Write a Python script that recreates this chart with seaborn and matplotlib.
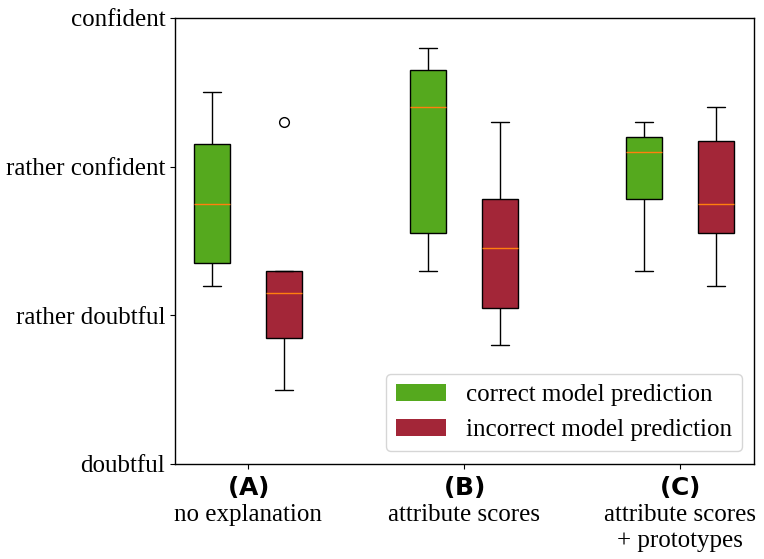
import matplotlib
matplotlib.use('Agg')
import matplotlib.pyplot as plt
from matplotlib.patches import Patch
import pandas as pd
import seaborn as sns

# Estimated five-number summaries (min, Q1, median, Q3, max) per box,
# 1 = doubtful ... 4 = confident
conditions = ['A', 'B', 'C']
a_correct = [2.2, 2.35, 2.75, 3.15, 3.5]
a_incorrect = [1.5, 1.85, 2.15, 2.3, 3.3]
b_correct = [2.3, 2.55, 3.4, 3.65, 3.8]
b_incorrect = [1.8, 2.05, 2.45, 2.78, 3.3]
c_correct = [2.3, 2.78, 3.1, 3.2, 3.3]
c_incorrect = [2.2, 2.55, 2.75, 3.17, 3.4]

tick_labels = ['$\\bf{(A)}$\nno explanation',
               '$\\bf{(B)}$\nattribute scores',
               '$\\bf{(C)}$\nattribute scores\n+ prototypes']
y_labels = ['doubtful', 'rather doubtful', 'rather confident', 'confident']
hue_names = ['correct model prediction', 'incorrect model prediction']
colors = ['#55a91e', '#a32638']

rows = []
for cond, corr, inc in zip(conditions,
                           [a_correct, b_correct, c_correct],
                           [a_incorrect, b_incorrect, c_incorrect]):
    for v in corr:
        rows.append((cond, hue_names[0], v))
    for v in inc:
        rows.append((cond, hue_names[1], v))
df = pd.DataFrame(rows, columns=['condition', 'prediction', 'confidence'])

sns.set_style('ticks')
plt.rcParams['font.family'] = ['Liberation Serif', 'DejaVu Serif']
plt.rcParams['mathtext.fontset'] = 'dejavusans'
plt.rcParams['text.color'] = 'black'
plt.rcParams['xtick.color'] = 'black'
plt.rcParams['ytick.color'] = 'black'
plt.rcParams['xtick.major.size'] = 3.5
plt.rcParams['ytick.major.size'] = 3.5

fig, ax = plt.subplots(figsize=(7.64, 5.59), dpi=100)
fig.subplots_adjust(left=0.229, right=0.987, top=0.968, bottom=0.170)

sns.boxplot(df, x='condition', y='confidence', hue='prediction',
            palette=colors, saturation=1, width=0.667, gap=0.5,
            linecolor='black', linewidth=1, ax=ax,
            medianprops={'color': '#ff7f0e', 'linewidth': 1},
            flierprops={'marker': 'o', 'markerfacecolor': 'none',
                        'markeredgecolor': 'black', 'markersize': 7})

ax.set_xlim(-0.338, 2.343)
ax.set_ylim(1, 4)
ax.set_yticks([1, 2, 3, 4])
ax.set_yticklabels(y_labels, fontsize=18)
ax.set_xticks([0, 1, 2])
ax.set_xticklabels(tick_labels, fontsize=18, linespacing=1.25)
ax.set_xlabel('')
ax.set_ylabel('')
for s in ax.spines.values():
    s.set_visible(True)
    s.set_linewidth(1)
    s.set_color('black')

handles = [Patch(facecolor=c, edgecolor='none') for c in colors]
ax.legend(handles, hue_names, loc='lower right', fontsize=18)

fig.savefig('out.png', dpi=100)
